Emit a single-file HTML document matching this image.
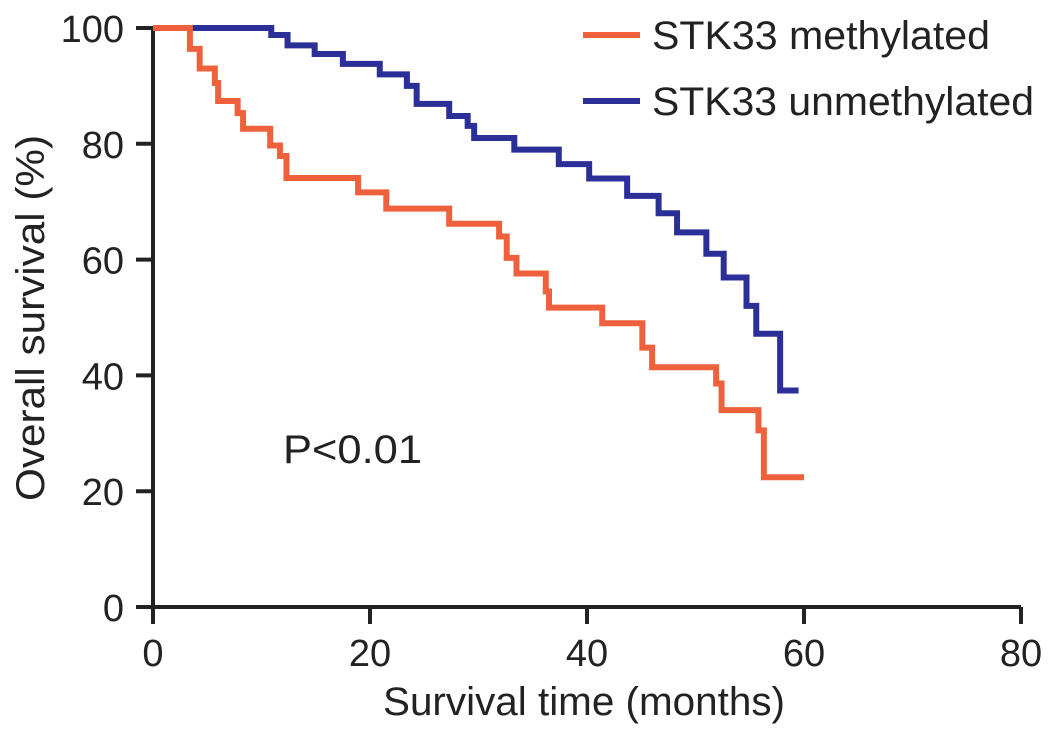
<!DOCTYPE html>
<html><head><meta charset="utf-8"><style>
html,body{margin:0;padding:0;background:#fff;}
svg{display:block;font-family:"Liberation Sans",Arial,sans-serif;}
</style></head><body>
<svg id="chart" width="1061" height="738" viewBox="0 0 1061 738" xmlns="http://www.w3.org/2000/svg">
<g id="axes"></g>
<g id="series"></g>
<text x="0" y="0" transform="translate(44,318) rotate(-90)" text-anchor="middle" font-size="40" textLength="366" lengthAdjust="spacingAndGlyphs" fill="#222">Overall survival (%)</text>
<text x="584" y="715" text-anchor="middle" font-size="40" textLength="402" lengthAdjust="spacingAndGlyphs" fill="#222">Survival time (months)</text>
<text x="283" y="463" font-size="40" textLength="139" lengthAdjust="spacingAndGlyphs" fill="#222">P&lt;0.01</text>
<g>
<line x1="583" y1="35" x2="640" y2="35" stroke="#ef613d" stroke-width="6"/>
<text x="652" y="49" font-size="40" textLength="338" lengthAdjust="spacingAndGlyphs" fill="#222">STK33 methylated</text>
<line x1="583" y1="101" x2="640" y2="101" stroke="#2b2f98" stroke-width="6"/>
<text x="652" y="115" font-size="40" textLength="382" lengthAdjust="spacingAndGlyphs" fill="#222">STK33 unmethylated</text>
</g>
</svg>
<script>
const xTicks = [0, 20, 40, 60, 80];
const yTicks = [0, 20, 40, 60, 80, 100];
const methTimes = [0, 3.4, 4.3, 5.7, 6.0, 7.8, 8.3, 10.8, 11.7, 12.3, 18.9, 21.5, 27.3, 31.9, 32.6, 33.5, 36.2, 36.5, 41.4, 45.1, 46.0, 51.9, 52.4, 55.8, 56.3];
const methSurv = [100, 96.4, 93, 90.5, 87.4, 85.3, 82.6, 79.7, 77.9, 74.1, 71.6, 68.8, 66.2, 64, 60.3, 57.6, 54.5, 51.7, 49, 44.8, 41.4, 38.6, 34, 30.5, 22.4];
const methEnd = 60;
const unmethTimes = [0, 10.9, 12.4, 14.9, 17.5, 20.9, 23.4, 24.3, 27.3, 29.0, 29.6, 33.3, 37.4, 40.2, 43.7, 46.6, 48.3, 51.0, 52.6, 54.7, 55.6, 57.8];
const unmethSurv = [100, 98.8, 97, 95.5, 93.8, 92, 90, 86.9, 84.8, 83.1, 81, 79, 76.5, 74, 71, 68, 64.7, 61, 56.9, 52, 47.2, 37.4];
const unmethEnd = 59.5;

const X0 = 153, XPX = 10.85, Y0 = 607, YPX = 5.79;
function sx(t){ return X0 + t * XPX; }
function sy(v){ return Y0 - v * YPX; }
const NS = 'http://www.w3.org/2000/svg';
const axes = document.getElementById('axes');
const series = document.getElementById('series');
function mk(tag, attrs, parent){
  const e = document.createElementNS(NS, tag);
  for (const k in attrs) e.setAttribute(k, attrs[k]);
  parent.appendChild(e);
  return e;
}
let e;
e = mk('line', {x1: sx(0), y1: sy(0), x2: sx(80), y2: sy(0), stroke: '#222', 'stroke-width': 4}, axes);


e = mk('line', {x1: sx(0), y1: sy(0), x2: sx(0), y2: sy(100), stroke: '#222', 'stroke-width': 4}, axes);


xTicks.forEach(function(t){
  const tk = mk('line', {x1: sx(t), y1: sy(0), x2: sx(t), y2: sy(0) + 17, stroke: '#222', 'stroke-width': 4}, axes);
  
  
  const lb = mk('text', {x: sx(t), y: 666, 'text-anchor': 'middle', 'font-size': 38, fill: '#222'}, axes);
  lb.textContent = String(t);
  
  
});
yTicks.forEach(function(v){
  const tk = mk('line', {x1: sx(0) - 17, y1: sy(v), x2: sx(0), y2: sy(v), stroke: '#222', 'stroke-width': 4}, axes);
  
  
  const lb = mk('text', {x: 124, y: sy(v) + 14, 'text-anchor': 'end', 'font-size': 38, fill: '#222'}, axes);
  lb.textContent = String(v);
  
  
});
function stepPath(times, surv, end){
  let d = 'M' + sx(times[0]) + ' ' + sy(surv[0]);
  for (let i = 1; i < times.length; i++){
    d += ' H' + sx(times[i]) + ' V' + sy(surv[i]);
  }
  d += ' H' + sx(end);
  return d;
}
e = mk('path', {d: stepPath(unmethTimes, unmethSurv, unmethEnd), fill: 'none', stroke: '#2b2f98', 'stroke-width': 6, 'stroke-linejoin': 'miter'}, series);


e = mk('path', {d: stepPath(methTimes, methSurv, methEnd), fill: 'none', stroke: '#ef613d', 'stroke-width': 6, 'stroke-linejoin': 'miter'}, series);


</script>
</body></html>
